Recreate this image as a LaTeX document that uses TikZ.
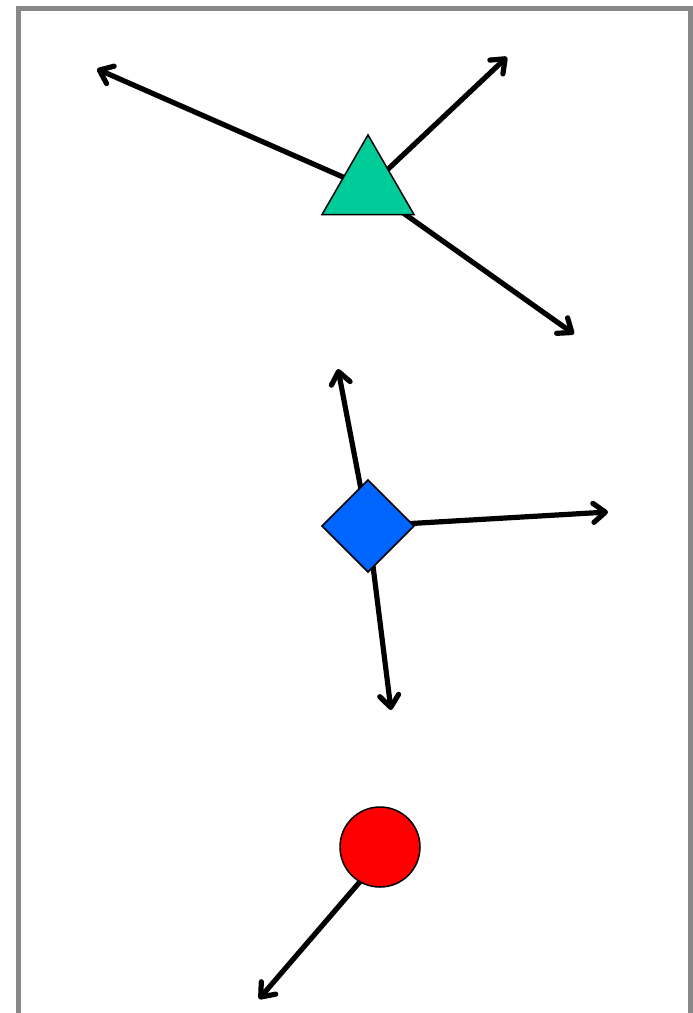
\documentclass[tikz,border=0pt]{standalone}
\usetikzlibrary{arrows.meta,shapes.geometric}
\definecolor{tricol}{HTML}{00CC99}
\definecolor{diacol}{HTML}{0066FF}
\definecolor{circol}{HTML}{FF0000}
\definecolor{framecol}{HTML}{888888}
\pgfdeclarelayer{bg}
\pgfsetlayers{bg,main}
\begin{document}
\begin{tikzpicture}[x=1pt,y=-1pt,
  shapebox/.style={draw=black,line width=1.5pt,inner sep=0pt,outer sep=0pt},
  arr/.style={line width=5.2pt,line cap=round,line join=round,
    -{Straight Barb[length=12pt,width=19pt,line cap=round,line join=round]}}]
\useasboundingbox (0,0) rectangle (693,1013);
\draw[framecol,line width=5pt] (18,1030) -- (18,8) -- (690,8) -- (690,1030);
% endpoints
\coordinate (t1) at (97,69);
\coordinate (t2) at (507,57);
\coordinate (t3) at (574,334);
\coordinate (d1) at (338,369);
\coordinate (d2) at (608,512);
\coordinate (d3) at (391,710);
\coordinate (c1) at (259,999);
% shapes
\node[shapebox,fill=tricol,regular polygon,regular polygon sides=3,minimum size=106.2pt] (tri) at (368,188) {};
\node[shapebox,fill=diacol,diamond,minimum width=92pt,minimum height=92pt] (dia) at (368,526) {};
\node[shapebox,fill=circol,circle,minimum size=80pt] (cir) at (380,847) {};
% connectors (under the shapes)
\begin{pgfonlayer}{bg}
\draw[arr] (tri.center) -- (t1);
\draw[arr] (tri.center) -- (t2);
\draw[arr] (tri.center) -- (t3);
\draw[arr] (dia.center) -- (d1);
\draw[arr] (dia.center) -- (d2);
\draw[arr] (dia.center) -- (d3);
\draw[arr] (cir.240) -- (c1);
\end{pgfonlayer}
\end{tikzpicture}
\end{document}
